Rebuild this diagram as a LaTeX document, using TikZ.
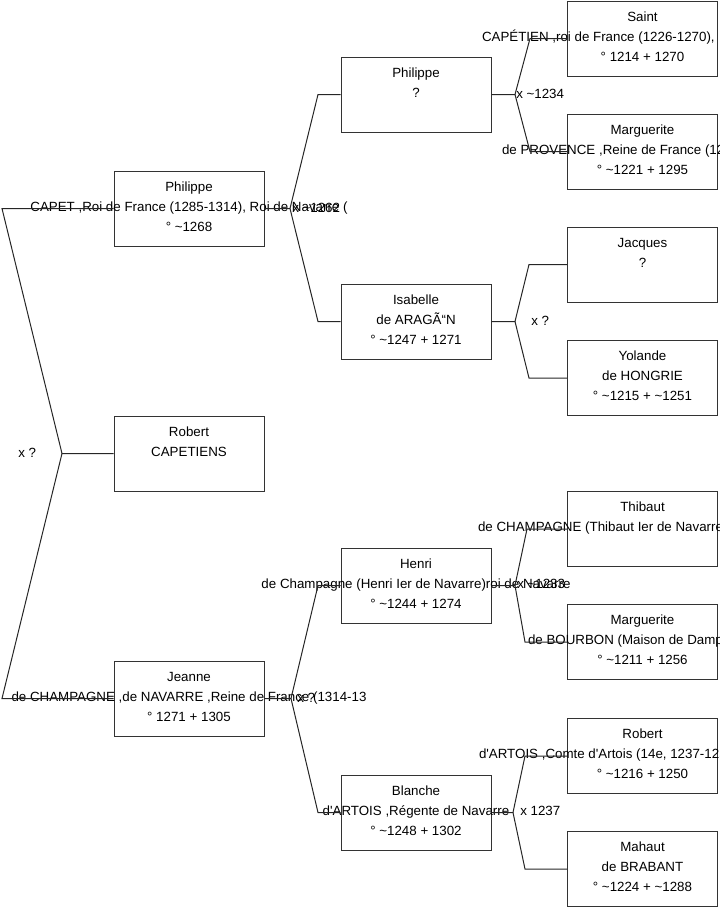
\documentclass[tikz,border=0pt]{standalone}
\usepackage{fontspec}
\newfontfamily\lsans{Liberation Sans}
\newlength\pxu \setlength\pxu{0.75pt}
\newcommand\lft[2]{\makebox[0pt][l]{\hspace*{-#1\pxu}#2}}
\newcommand\tl{\textasciitilde}
\newcommand\trio[3]{\strut#1\\\strut#2\\\strut#3}
\begin{document}
\begin{tikzpicture}[x=0.75pt,y=-0.75pt,
  box/.style={draw=black!80,line width=0.75pt,minimum width=112.5pt,minimum height=56.25pt,inner sep=0pt},
  txt/.style={font=\lsans\fontsize{10}{15}\selectfont,align=center,inner sep=0pt,text=black},
  lbl/.style={font=\lsans\fontsize{10}{15}\selectfont,anchor=west,inner sep=0pt,text=black},
  conn/.style={draw=black!85,line width=0.75pt}]
\useasboundingbox (0,0) rectangle (719,908);
% boxes
\node[box] (p1) at (189,208.5) {};
\node[box] (rob) at (189,453.5) {};
\node[box] (jea) at (189,698.5) {};
\node[box] (p2) at (416,94.5) {};
\node[box] (isa) at (416,321.5) {};
\node[box] (hen) at (416,585.5) {};
\node[box] (bla) at (416,812.5) {};
\node[box] (sai) at (642.5,38.5) {};
\node[box] (mpr) at (642.5,151.5) {};
\node[box] (jac) at (642.5,264.5) {};
\node[box] (yol) at (642.5,378) {};
\node[box] (thi) at (642.5,529) {};
\node[box] (mbo) at (642.5,642) {};
\node[box] (rar) at (642.5,756) {};
\node[box] (mah) at (642.5,869) {};
% texts
\node[txt] (tp1) at ([yshift=1.125pt]p1.center) {\trio{Philippe}{CAPET ,Roi de France (1285-1314), Roi de Navarre (}{° \tl1268}};
\node[txt] (trob) at ([yshift=1.125pt]rob.center) {\trio{Robert}{CAPETIENS}{}};
\node[txt] (tjea) at ([yshift=1.125pt]jea.center) {\trio{Jeanne}{de CHAMPAGNE ,de NAVARRE ,Reine de France (1314-13}{° 1271 + 1305}};
\node[txt] (tp2) at ([yshift=1.125pt]p2.center) {\trio{Philippe}{?}{}};
\node[txt] (tisa) at ([yshift=1.125pt]isa.center) {\trio{Isabelle}{de ARAGÃ“N}{° \tl1247 + 1271}};
\node[txt] (then) at ([yshift=1.125pt]hen.center) {\trio{Henri}{de Champagne (Henri Ier de Navarre)roi de Navarre}{° \tl1244 + 1274}};
\node[txt] (tbla) at ([yshift=1.125pt]bla.center) {\trio{Blanche}{d'ARTOIS ,Régente de Navarre}{° \tl1248 + 1302}};
\node[txt] (tsai) at ([yshift=1.125pt]sai.center) {\trio{Saint}{\lft{160.5}{CAPÉTIEN ,roi de France (1226-1270),}}{° 1214 + 1270}};
\node[txt] (tmpr) at ([yshift=1.125pt]mpr.center) {\trio{Marguerite}{\lft{140.5}{de PROVENCE ,Reine de France (12}}{° \tl1221 + 1295}};
\node[txt] (tjac) at ([yshift=1.125pt]jac.center) {\trio{Jacques}{?}{}};
\node[txt] (tyol) at ([yshift=1.125pt]yol.center) {\trio{Yolande}{de HONGRIE}{° \tl1215 + \tl1251}};
\node[txt] (tthi) at ([yshift=1.125pt]thi.center) {\trio{Thibaut}{\lft{164.5}{de CHAMPAGNE (Thibaut Ier de Navarre)}}{}};
\node[txt] (tmbo) at ([yshift=1.125pt]mbo.center) {\trio{Marguerite}{\lft{114.5}{de BOURBON (Maison de Dampierre}}{° \tl1211 + 1256}};
\node[txt] (trar) at ([yshift=1.125pt]rar.center) {\trio{Robert}{\lft{163.5}{d'ARTOIS ,Comte d'Artois (14e, 1237-125}}{° \tl1216 + 1250}};
\node[txt] (tmah) at ([yshift=1.125pt]mah.center) {\trio{Mahaut}{de BRABANT}{° \tl1224 + \tl1288}};
% fork coordinates
\coordinate (f0) at (62,453.5);
\coordinate (f0a) at (2,208.5);
\coordinate (f0b) at (2,698.5);
\coordinate (f1) at (290,208.5);
\coordinate (f1a) at (318,94.5);
\coordinate (f1b) at (318,321.5);
\coordinate (f2) at (291,698.5);
\coordinate (f2a) at (318,585.5);
\coordinate (f2b) at (318,812.5);
\coordinate (f3) at (515,94.5);
\coordinate (f3a) at (530,38.5);
\coordinate (f3b) at (530,151.5);
\coordinate (f4) at (515,321.5);
\coordinate (f4a) at (529,264.5);
\coordinate (f4b) at (529,378);
\coordinate (f5) at (515,585.5);
\coordinate (f5a) at (527,529);
\coordinate (f5b) at (525,642);
\coordinate (f6) at (513,812.5);
\coordinate (f6a) at (525,756);
\coordinate (f6b) at (525,869);
% connectors
\draw[conn] (rob.west) -- (f0) -- (f0a) -- (p1.west);
\draw[conn] (f0) -- (f0b) -- (jea.west);
\draw[conn] (p1.east) -- (f1) -- (f1a) -- (p2.west);
\draw[conn] (f1) -- (f1b) -- (isa.west);
\draw[conn] (jea.east) -- (f2) -- (f2a) -- (hen.west);
\draw[conn] (f2) -- (f2b) -- (bla.west);
\draw[conn] (p2.east) -- (f3) -- (f3a) -- (sai.west);
\draw[conn] (f3) -- (f3b) -- (mpr.west);
\draw[conn] (isa.east) -- (f4) -- (f4a) -- (jac.west);
\draw[conn] (f4) -- (f4b) -- (yol.west);
\draw[conn] (hen.east) -- (f5) -- (f5a) -- (thi.west);
\draw[conn] (f5) -- (f5b) -- (mbo.west);
\draw[conn] (bla.east) -- (f6) -- (f6a) -- (rar.west);
\draw[conn] (f6) -- (f6b) -- (mah.west);
% marriage labels
\node[lbl] (m0) at (18,452.5) {x ?};
\node[lbl] (m1) at (292,207.5) {x \tl1262};
\node[lbl] (m2) at (297,698) {x ?};
\node[lbl] (m3) at (516,93.5) {x \tl1234};
\node[lbl] (m4) at (531,320.5) {x ?};
\node[lbl] (m5) at (517,584) {x \tl1233};
\node[lbl] (m6) at (520,811) {x 1237};
\end{tikzpicture}
\end{document}
